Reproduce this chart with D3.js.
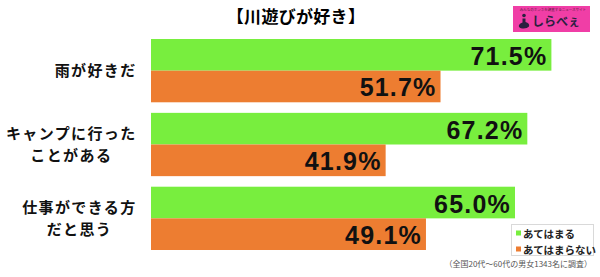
<!DOCTYPE html>
<html>
<head>
<meta charset="utf-8">
<script src="https://cdn.jsdelivr.net/npm/d3@7"></script>
<style>
  body { margin: 0; background: #fff; }
  svg { display: block; }
</style>
</head>
<body>
<svg id="chart" width="600" height="277"></svg>
<script>
var categories = [["雨が好きだ"], ["キャンプに行った", "ことがある"], ["仕事ができる方", "だと思う"]],
    yesValues = [71.5, 67.2, 65.0],
    noValues = [51.7, 41.9, 49.1],
    seriesNames = ["あてはまる", "あてはまらない"],
    title = "【川遊びが好き】",
    note = "（全国20代～60代の男女1343名に調査）";

var colors = ["#78ee3e", "#ed7d31"],
    jp = "'Noto Sans CJK JP', 'Noto Sans', sans-serif";

var svg = d3.select("#chart");

var x = d3.scaleLinear()
    .domain([0, 100])
    .range([151, 711]);

var y0 = d3.scaleBand()
    .domain(d3.range(categories.length))
    .range([39, 250])
    .paddingInner(0.143);

var y1 = d3.scaleBand()
    .domain([0, 1])
    .range([0, y0.bandwidth()]);

// title
svg.append("text")
    .attr("x", 296)
    .attr("y", 15)
    .attr("text-anchor", "middle")
    .attr("dominant-baseline", "central")
    .style("font-family", jp)
    .style("font-weight", "bold")
    .style("font-size", "17px")
    .style("letter-spacing", "0.3px")
    .text(title);

// logo
var logo = svg.append("g");
logo.append("rect")
    .attr("x", 513).attr("y", 6)
    .attr("width", 77).attr("height", 26)
    .attr("fill", "#f03ea6");
logo.append("text")
    .attr("x", 553).attr("y", 11)
    .attr("text-anchor", "middle")
    .style("font-family", jp)
    .style("font-size", "3.5px")
    .attr("fill", "#5a1d40")
    .text("みんなのホンネを調査するニュースサイト");
logo.append("circle")
    .attr("cx", 524).attr("cy", 15.5).attr("r", 1.8)
    .attr("fill", "#2a2040");
logo.append("path")
    .attr("d", "M522.5,18.5 L525.5,18.5 L525.5,22 Q530,23 529,26.5 Q527,29 522,28.5 Q518,27.5 519,25 Q520,23 522.5,22.5 Z")
    .attr("fill", "#2a2040");
logo.append("text")
    .attr("x", 532).attr("y", 26)
    .style("font-family", jp)
    .style("font-weight", "bold")
    .style("font-size", "12px")
    .attr("fill", "#2a2040")
    .text("しらべぇ");

var rows = categories.map(function(c, i) {
    return { label: c, vals: [yesValues[i], noValues[i]], i: i };
});

var group = svg.append("g")
    .selectAll("g")
    .data(rows)
    .enter().append("g")
    .attr("transform", function(d) { return "translate(0," + y0(d.i) + ")"; });

group.selectAll("rect")
    .data(function(d) { return d.vals.map(function(v, k) { return { v: v, k: k }; }); })
    .enter().append("rect")
    .attr("x", x(0))
    .attr("y", function(d) { return y1(d.k); })
    .attr("width", function(d) { return x(d.v) - x(0); })
    .attr("height", y1.bandwidth())
    .attr("fill", function(d) { return colors[d.k]; });

group.selectAll("text.val")
    .data(function(d) { return d.vals.map(function(v, k) { return { v: v, k: k }; }); })
    .enter().append("text")
    .attr("class", "val")
    .attr("x", function(d) { return x(d.v) - 4; })
    .attr("y", function(d) { return y1(d.k) + y1.bandwidth() / 2 + 1; })
    .attr("text-anchor", "end")
    .attr("dominant-baseline", "central")
    .style("font-family", "'Liberation Sans', Arial, sans-serif")
    .style("font-weight", "bold")
    .style("font-size", "25px")
    .style("letter-spacing", "1.2px")
    .attr("fill", "#111")
    .text(function(d) { return d3.format(".1f")(d.v) + "%"; });

// category labels: lines centred on each other, block right-aligned at x=136
group.append("text")
    .attr("class", "cat")
    .attr("text-anchor", "middle")
    .style("font-family", jp)
    .style("font-weight", "bold")
    .style("font-size", "15px")
    .style("letter-spacing", "1.4px")
    .attr("fill", "#111")
    .each(function(d) {
        var n = d.label.length,
            cy = y0.bandwidth() / 2,
            el = d3.select(this);
        var spans = el.selectAll("tspan")
            .data(d.label)
            .enter().append("tspan")
            .attr("y", function(t, j) { return cy + (j - (n - 1) / 2) * 22 + 5.5; })
            .text(function(t) { return t; });
        var w = d3.max(spans.nodes(), function(s) { return s.getComputedTextLength(); });
        spans.attr("x", 136 - w / 2 + 0.7);
    });

// legend
var legend = svg.append("g");
legend.append("rect")
    .attr("x", 511.5).attr("y", 224.5)
    .attr("width", 82).attr("height", 31)
    .attr("fill", "#fff")
    .attr("stroke", "#d9d9d9");
var item = legend.selectAll("g")
    .data(seriesNames)
    .enter().append("g")
    .attr("transform", function(d, i) { return "translate(516," + (233 + i * 16) + ")"; });
item.append("rect")
    .attr("x", 0).attr("y", -2.5)
    .attr("width", 5).attr("height", 5)
    .attr("fill", function(d, i) { return colors[i]; });
item.append("text")
    .attr("x", 7)
    .attr("dominant-baseline", "central")
    .style("font-family", jp)
    .style("font-weight", "bold")
    .style("font-size", "10.5px")
    .attr("fill", "#222")
    .text(function(d) { return d; });

// footnote
svg.append("text")
    .attr("x", 592)
    .attr("y", 263)
    .attr("text-anchor", "end")
    .attr("dominant-baseline", "central")
    .style("font-family", jp)
    .style("font-size", "8px")
    .attr("fill", "#555")
    .text(note);
</script>
</body>
</html>
